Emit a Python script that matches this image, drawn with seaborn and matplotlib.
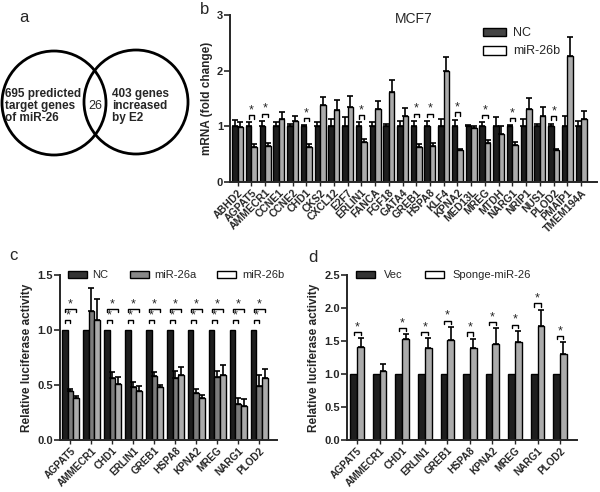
import numpy as np
import pandas as pd
import matplotlib
matplotlib.use('Agg')
import matplotlib.pyplot as plt
from matplotlib.patches import Circle, Patch
import seaborn as sns

# ---- panel b data (MCF7 qPCR) ----
genes_b = ['ABHD2', 'AGPAT5', 'AMMECR1', 'CCNE1', 'CCNE2', 'CHD1', 'CKS2', 'CXCL12',
           'E2F7', 'ERLIN1', 'FANCA', 'FGF18', 'GATA4', 'GREB1', 'HSPA8', 'KLF4',
           'KPNA2', 'MED13L', 'MREG', 'MTDH', 'NARG1', 'NRIP1', 'NUS1', 'PLOD2',
           'PMAIP1', 'TMEM194A']
nc_b = [1.00, 1.00, 1.00, 1.00, 1.00, 1.00, 1.00, 1.00, 1.00, 1.00, 1.00, 1.00, 1.00,
        1.00, 1.00, 1.00, 1.00, 1.00, 1.00, 1.00, 1.00, 1.00, 1.00, 1.00, 1.00, 1.00]
nc_b_err = [0.12, 0.07, 0.10, 0.08, 0.05, 0.02, 0.07, 0.14, 0.17, 0.07, 0.08, 0.05, 0.10,
            0.10, 0.10, 0.14, 0.12, 0.03, 0.08, 0.17, 0.02, 0.13, 0.05, 0.05, 0.18, 0.10]
mir_b = [0.98, 0.63, 0.65, 1.13, 1.09, 0.63, 1.38, 1.30, 1.34, 0.72, 1.32, 1.62, 1.18,
         0.62, 0.65, 1.99, 0.58, 0.97, 0.70, 0.87, 0.67, 1.32, 1.18, 0.58, 2.27, 1.14]
mir_b_err = [0.09, 0.06, 0.05, 0.12, 0.10, 0.06, 0.15, 0.17, 0.21, 0.05, 0.14, 0.22, 0.15,
             0.06, 0.05, 0.26, 0.02, 0.03, 0.05, 0.14, 0.05, 0.19, 0.17, 0.02, 0.34, 0.14]
sig_b = ['AGPAT5', 'AMMECR1', 'CHD1', 'ERLIN1', 'GREB1', 'HSPA8', 'KPNA2', 'MREG',
         'NARG1', 'PLOD2']

# ---- panels c, d data (luciferase) ----
genes_cd = ['AGPAT5', 'AMMECR1', 'CHD1', 'ERLIN1', 'GREB1', 'HSPA8', 'KPNA2', 'MREG',
            'NARG1', 'PLOD2']
nc_c = [1.00, 1.00, 1.00, 1.00, 1.00, 1.00, 1.00, 1.00, 1.00, 1.00]
mir26a_c = [0.45, 1.17, 0.56, 0.48, 0.58, 0.56, 0.43, 0.57, 0.33, 0.49]
mir26a_err = [0.01, 0.21, 0.06, 0.05, 0.04, 0.07, 0.03, 0.06, 0.05, 0.10]
mir26b_c = [0.38, 1.09, 0.51, 0.45, 0.48, 0.59, 0.38, 0.59, 0.31, 0.56]
mir26b_err = [0.02, 0.19, 0.06, 0.04, 0.02, 0.07, 0.03, 0.09, 0.06, 0.09]
sig_c = ['AGPAT5', 'CHD1', 'ERLIN1', 'GREB1', 'HSPA8', 'KPNA2', 'MREG', 'NARG1', 'PLOD2']

vec_d = [1.00, 1.00, 1.00, 1.00, 1.00, 1.00, 1.00, 1.00, 1.00, 1.00]
sponge_d = [1.41, 1.05, 1.53, 1.39, 1.51, 1.39, 1.46, 1.48, 1.72, 1.30]
sponge_err = [0.13, 0.10, 0.07, 0.15, 0.20, 0.14, 0.23, 0.17, 0.25, 0.18]
sig_d = ['AGPAT5', 'CHD1', 'ERLIN1', 'GREB1', 'HSPA8', 'KPNA2', 'MREG', 'NARG1', 'PLOD2']

DARK = '#1e1e1e'
MID = '#7c7c7c'
LIGHT = '#ababab'

sns.set_style('ticks')
plt.rcParams['font.family'] = ['Liberation Sans', 'DejaVu Sans']
plt.rcParams['axes.linewidth'] = 1.4


def draw_bars(ax, genes, groups, values, colors, width):
    rows = []
    for g, vals in zip(groups, values):
        for gene, v in zip(genes, vals):
            rows.append({'gene': gene, 'group': g, 'value': v})
    df = pd.DataFrame(rows)
    sns.barplot(data=df, x='gene', y='value', hue='group', hue_order=groups,
                palette=dict(zip(groups, colors)), width=width, errorbar=None,
                edgecolor='black', linewidth=1.0, saturation=1, legend=False, ax=ax)
    return [[p.get_x() + p.get_width() / 2 for p in c] for c in ax.containers]


def add_err(ax, xs, vals, errs):
    xs, vals, errs = np.array(xs), np.array(vals), np.array(errs)
    m = errs > 0
    ax.errorbar(xs[m], vals[m], yerr=[np.zeros(m.sum()), errs[m]], fmt='none',
                ecolor='black', elinewidth=1.2, capsize=2, capthick=1.2)


def bracket(ax, x1, x2, y, h):
    ax.plot([x1, x1, x2, x2], [y - h, y, y, y - h], color='black', lw=1)
    ax.text((x1 + x2) / 2, y - h * 0.4, '*', ha='center', va='bottom', fontsize=9)


def style_axes(ax, ylabel, yticks, ylim, xlim, xfs):
    sns.despine(ax=ax)
    ax.set_ylim(*ylim)
    ax.set_xlim(*xlim)
    ax.set_yticks(yticks)
    ax.set_xlabel('')
    ax.set_ylabel(ylabel, fontsize=8.5, fontweight='bold', labelpad=3)
    ax.tick_params(axis='y', length=4, width=1.2, labelsize=8, pad=1)
    ax.tick_params(axis='x', length=3, width=1.0, pad=1)
    for t in ax.get_yticklabels():
        t.set_fontweight('bold')
    for t in ax.get_xticklabels():
        t.set_rotation(45)
        t.set_ha('right')
        t.set_rotation_mode('anchor')
        t.set_fontweight('bold')
        t.set_fontsize(xfs)


fig = plt.figure(figsize=(6.0, 4.92), dpi=100)

# ---- panel a: Venn ----
ax_a = fig.add_axes([0, 1 - 200 / 492, 200 / 600, 200 / 492])
ax_a.set_xlim(0, 200)
ax_a.set_ylim(200, 0)
ax_a.axis('off')
ax_a.add_patch(Circle((54, 103), 52, fill=False, lw=2, color='black'))
ax_a.add_patch(Circle((136, 102), 52, fill=False, lw=2, color='black'))
ax_a.text(5, 106, '695 predicted\ntarget genes\nof miR-26', fontsize=8.5, fontweight='bold',
          va='center', ha='left', linespacing=1.05)
ax_a.text(112, 106, '403 genes\nincreased\nby E2', fontsize=8.5, fontweight='bold',
          va='center', ha='left', linespacing=1.05)
ax_a.text(95, 106, '26', fontsize=9, va='center', ha='center')

# ---- panel b ----
ax_b = fig.add_axes([230 / 600, 1 - 182 / 492, 367 / 600, 167 / 492])
xs_b = draw_bars(ax_b, genes_b, ['NC', 'miR-26b'], [nc_b, mir_b], [DARK, LIGHT], 0.8)
add_err(ax_b, xs_b[0], nc_b, nc_b_err)
add_err(ax_b, xs_b[1], mir_b, mir_b_err)
for i, g in enumerate(genes_b):
    if g in sig_b:
        top = max(nc_b[i] + nc_b_err[i], mir_b[i] + mir_b_err[i])
        bracket(ax_b, xs_b[0][i], xs_b[1][i], top + 0.13, 0.06)
style_axes(ax_b, 'mRNA (fold change)', [0, 1, 2, 3], (0, 3), (-0.55, 26.15), 7.5)
ax_b.set_title('MCF7', fontsize=10, y=0.9)
ax_b.legend(handles=[Patch(facecolor='#444444', edgecolor='black', label='NC'),
                     Patch(facecolor='white', edgecolor='black', label='miR-26b')],
            loc='upper left', bbox_to_anchor=(472 / 600, 1 - 16 / 492),
            bbox_transform=fig.transFigure, frameon=False, fontsize=9,
            handlelength=1.8, handleheight=0.7, handletextpad=0.6, labelspacing=0.5)

# ---- panel c ----
ax_c = fig.add_axes([60 / 600, 1 - 440 / 492, 217 / 600, 165 / 492])
xs_c = draw_bars(ax_c, genes_cd, ['NC', 'miR-26a', 'miR-26b'], [nc_c, mir26a_c, mir26b_c],
                 [DARK, MID, LIGHT], 0.8)
add_err(ax_c, xs_c[1], mir26a_c, mir26a_err)
add_err(ax_c, xs_c[2], mir26b_c, mir26b_err)
for i, g in enumerate(genes_cd):
    if g in sig_c:
        bracket(ax_c, xs_c[0][i], xs_c[1][i], 1.09, 0.03)
        bracket(ax_c, xs_c[0][i], xs_c[2][i], 1.19, 0.03)
style_axes(ax_c, 'Relative luciferase activity', [0.0, 0.5, 1.0, 1.5], (0, 1.5),
           (-0.5, 9.85), 7.2)
ax_c.set_yticklabels(['0.0', '0.5', '1.0', '1.5'], fontweight='bold')
ax_c.legend(handles=[Patch(facecolor='#333333', edgecolor='black', label='NC'),
                     Patch(facecolor='#888888', edgecolor='black', label='miR-26a'),
                     Patch(facecolor='white', edgecolor='black', label='miR-26b')],
            loc='center left', bbox_to_anchor=(58 / 600, 1 - 275 / 492),
            bbox_transform=fig.transFigure, frameon=False, fontsize=8, ncol=3,
            handlelength=1.7, handleheight=0.6, handletextpad=0.5, columnspacing=1.9)

# ---- panel d ----
ax_d = fig.add_axes([347 / 600, 1 - 440 / 492, 230 / 600, 165 / 492])
xs_d = draw_bars(ax_d, genes_cd, ['Vec', 'Sponge-miR-26'], [vec_d, sponge_d],
                 [DARK, LIGHT], 0.6)
add_err(ax_d, xs_d[1], sponge_d, sponge_err)
for i, g in enumerate(genes_cd):
    if g in sig_d:
        bracket(ax_d, xs_d[0][i], xs_d[1][i], sponge_d[i] + sponge_err[i] + 0.1, 0.05)
style_axes(ax_d, 'Relative luciferase activity', [0.0, 0.5, 1.0, 1.5, 2.0, 2.5],
           (0, 2.5), (-0.45, 9.75), 7.2)
ax_d.set_yticklabels(['0.0', '0.5', '1.0', '1.5', '2.0', '2.5'], fontweight='bold')
ax_d.legend(handles=[Patch(facecolor='#333333', edgecolor='black', label='Vec'),
                     Patch(facecolor='white', edgecolor='black', label='Sponge-miR-26')],
            loc='center left', bbox_to_anchor=(346 / 600, 1 - 275 / 492),
            bbox_transform=fig.transFigure, frameon=False, fontsize=8, ncol=2,
            handlelength=1.7, handleheight=0.6, handletextpad=0.8, columnspacing=2.0)

# ---- panel letters ----
fig.text(24 / 600, 1 - 17 / 492, 'a', fontsize=12, ha='center', va='center')
fig.text(205 / 600, 1 - 9 / 492, 'b', fontsize=12, ha='center', va='center')
fig.text(13 / 600, 1 - 256 / 492, 'c', fontsize=12, ha='center', va='center')
fig.text(313 / 600, 1 - 258 / 492, 'd', fontsize=12, ha='center', va='center')

fig.savefig('out.png', dpi=100)
